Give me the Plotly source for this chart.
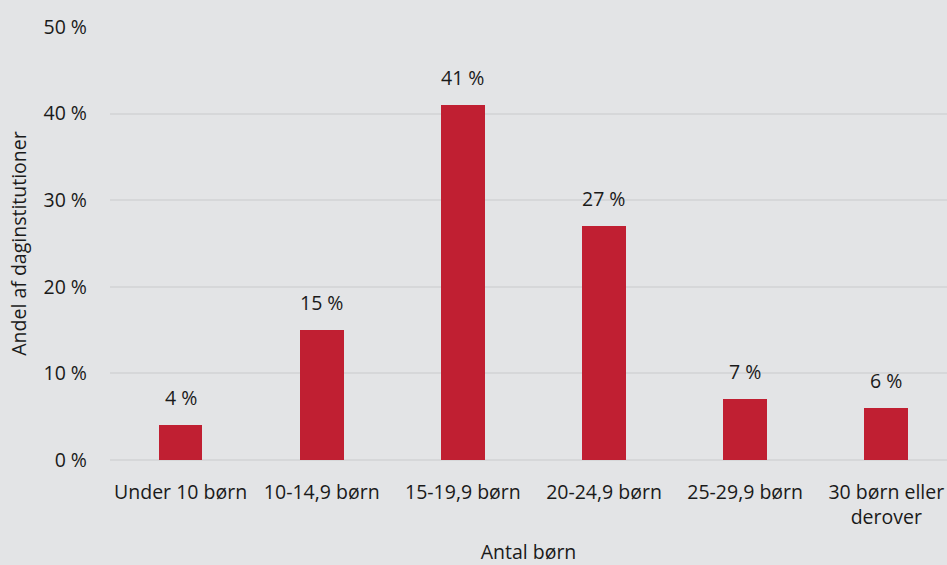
import plotly.graph_objects as go

categories = ["Under 10 børn", "10-14,9 børn", "15-19,9 børn", "20-24,9 børn",
              "25-29,9 børn", "30 børn eller<br>derover"]
shares = [4, 15, 41, 27, 7, 6]
y_ticks = [0, 10, 20, 30, 40, 50]

bg = "#e3e4e6"
bar_color = "#c01f32"
font = "Open Sans, DejaVu Sans, sans-serif"
text_color = "#1a1a1a"
fs = 19.5

x_pos = list(range(len(categories)))

fig = go.Figure(go.Bar(
    x=x_pos,
    y=shares,
    width=0.31,
    marker=dict(color=bar_color, line=dict(width=0)),
))

# value labels above the bars
for xp, v in zip(x_pos, shares):
    fig.add_annotation(
        x=xp, y=v, text=f"{v} %", showarrow=False,
        yanchor="bottom", yshift=12,
        font=dict(size=fs, color=text_color, family=font),
    )

fig.update_layout(
    width=947, height=565,
    paper_bgcolor=bg, plot_bgcolor=bg,
    margin=dict(l=110, r=0, t=27, b=105, autoexpand=False),
    font=dict(family=font, size=fs, color=text_color),
    showlegend=False,
    bargap=0,
)

fig.update_xaxes(
    range=[-0.5, 5.43],
    tickmode="array", tickvals=x_pos, ticktext=categories,
    showgrid=False, zeroline=False, showline=False,
    ticks="", ticklabelstandoff=18,
    title=dict(text="Antal børn", standoff=23, font=dict(size=fs)),
)

fig.update_yaxes(
    range=[0, 50],
    tickmode="array", tickvals=y_ticks, ticktext=[f"{v} %" for v in y_ticks],
    showgrid=True, gridcolor="#d6d7d9", gridwidth=2,
    zeroline=True, zerolinecolor="#d6d7d9", zerolinewidth=2,
    showline=False, ticks="", ticklabelstandoff=22,
    title=dict(text="Andel af daginstitutioner", standoff=11, font=dict(size=fs)),
)

fig.write_html("out.html")
